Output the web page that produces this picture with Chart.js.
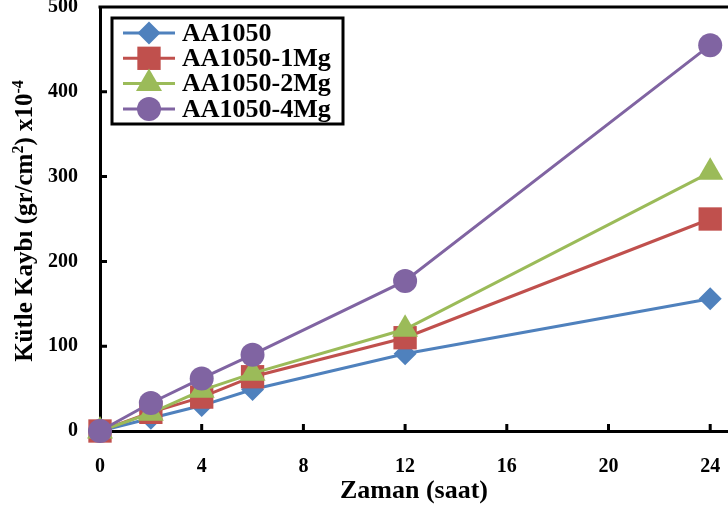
<!DOCTYPE html>
<html>
<head>
<meta charset="utf-8">
<script src="https://cdn.jsdelivr.net/npm/chart.js@4"></script>
<style>
  html, body { margin: 0; padding: 0; background: #fff; }
</style>
</head>
<body>
<canvas id="lossChart" width="728" height="511"></canvas>
<script>
// exposure time (hours) and mass loss (gr/cm2 x10^-4) per alloy
const hours = [0, 2, 4, 6, 12, 24];
const alloys = ['AA1050', 'AA1050-1Mg', 'AA1050-2Mg', 'AA1050-4Mg'];
const lossAA1050 = [0, 15, 30, 49, 91, 156];
const loss1Mg = [0, 22, 40, 64, 110, 250];
const loss2Mg = [0, 21, 48, 68, 120, 305];
const loss4Mg = [0, 33, 62, 90, 177, 455];
const xTicks = [0, 4, 8, 12, 16, 20, 24];
const yTicks = [0, 100, 200, 300, 400, 500];

const serif = "'Liberation Serif', 'Times New Roman', serif";

function series(label, values, color, style, radius, order) {
  return {
    label: label,
    data: hours.map((h, i) => ({ x: h, y: values[i] })),
    borderColor: color,
    backgroundColor: color,
    borderWidth: 3,
    pointStyle: style,
    pointRadius: radius,
    pointHoverRadius: radius,
    pointBorderWidth: 0,
    tension: 0,
    clip: false,
    order: order
  };
}

// tick marks point into the plot, plus the top frame line
const innerTicks = {
  id: 'innerTicks',
  beforeDatasetsDraw(chart) {
    const { ctx, chartArea, scales } = chart;
    ctx.save();
    ctx.strokeStyle = '#000';
    ctx.lineWidth = 3;
    ctx.beginPath();
    ctx.moveTo(chartArea.left - 1.5, chartArea.top);
    ctx.lineTo(chartArea.right, chartArea.top);
    xTicks.slice(1).forEach(v => {
      const px = scales.x.getPixelForValue(v);
      ctx.moveTo(px, chartArea.bottom);
      ctx.lineTo(px, chartArea.bottom - 7);
    });
    yTicks.slice(1, -1).forEach(v => {
      const py = scales.y.getPixelForValue(v);
      ctx.moveTo(chartArea.left, py);
      ctx.lineTo(chartArea.left + 7, py);
    });
    ctx.stroke();
    ctx.restore();
  }
};

// y axis title with superscripts
const yTitle = {
  id: 'yTitle',
  afterDraw(chart) {
    const { ctx, chartArea } = chart;
    const parts = [
      ['Kütle Kaybı (gr/cm', false],
      ['2', true],
      [') x10', false],
      ['-4', true]
    ];
    const big = 'bold 25px ' + serif;
    const small = 'bold 16px ' + serif;
    ctx.save();
    let total = 0;
    parts.forEach(p => {
      ctx.font = p[1] ? small : big;
      total += ctx.measureText(p[0]).width;
    });
    ctx.translate(32, (chartArea.top + chartArea.bottom) / 2 + 2);
    ctx.rotate(-Math.PI / 2);
    ctx.fillStyle = '#000';
    ctx.textBaseline = 'alphabetic';
    let x = -total / 2;
    parts.forEach(p => {
      ctx.font = p[1] ? small : big;
      ctx.fillText(p[0], x, p[1] ? -9 : 0);
      x += ctx.measureText(p[0]).width;
    });
    ctx.restore();
  }
};

// boxed legend in the upper left of the plot
const boxLegend = {
  id: 'boxLegend',
  afterDraw(chart) {
    const { ctx, chartArea } = chart;
    const left = chartArea.left + 12;
    const top = chartArea.top + 11;
    const w = 231, h = 106, rowH = 25.3;
    ctx.save();
    ctx.fillStyle = '#fff';
    ctx.fillRect(left, top, w, h);
    ctx.strokeStyle = '#000';
    ctx.lineWidth = 3;
    ctx.strokeRect(left, top, w, h);
    chart.data.datasets.forEach((ds, i) => {
      const cy = top + 15 + i * rowH;
      ctx.strokeStyle = ds.borderColor;
      ctx.lineWidth = 3;
      ctx.beginPath();
      ctx.moveTo(left + 11, cy);
      ctx.lineTo(left + 63, cy);
      ctx.stroke();
      ctx.fillStyle = ds.backgroundColor;
      Chart.helpers.drawPoint(ctx, {
        pointStyle: ds.pointStyle,
        radius: ds.pointRadius,
        borderWidth: 0,
        rotation: 0
      }, left + 37, cy);
      ctx.fillStyle = '#000';
      ctx.font = 'bold 26px ' + serif;
      ctx.textBaseline = 'middle';
      ctx.fillText(ds.label, left + 70, cy + 1);
    });
    ctx.restore();
  }
};

new Chart(document.getElementById('lossChart').getContext('2d'), {
  type: 'line',
  data: {
    datasets: [
      series(alloys[0], lossAA1050, '#4F81BD', 'rectRot', 11.5, 4),
      series(alloys[1], loss1Mg, '#C0504D', 'rect', 16.5, 3),
      series(alloys[2], loss2Mg, '#9BBB59', 'triangle', 15, 2),
      series(alloys[3], loss4Mg, '#8064A2', 'circle', 12, 1)
    ]
  },
  options: {
    responsive: false,
    animation: false,
    layout: { autoPadding: false, padding: { top: 7, right: 0, left: 0, bottom: 0 } },
    plugins: {
      legend: { display: false },
      tooltip: { enabled: false }
    },
    scales: {
      x: {
        type: 'linear',
        min: 0,
        max: 24.7,
        afterBuildTicks: s => { s.ticks = xTicks.map(v => ({ value: v })); },
        afterFit: s => {
          s.height = 80;
          s.paddingLeft = 0;
          s.paddingRight = 0;
        },
        grid: { display: false, drawTicks: false },
        border: { color: '#000', width: 3 },
        ticks: {
          color: '#000',
          padding: 24,
          maxRotation: 0,
          autoSkip: false,
          font: { family: serif, size: 20, weight: 'bold' }
        },
        title: {
          display: true,
          text: 'Zaman (saat)',
          color: '#000',
          padding: { top: 0, bottom: 4 },
          font: { family: serif, size: 26, weight: 'bold' }
        }
      },
      y: {
        min: 0,
        max: 500,
        afterBuildTicks: s => { s.ticks = yTicks.map(v => ({ value: v })); },
        afterFit: s => {
          s.width = 100;
          s.paddingTop = 0;
          s.paddingBottom = 0;
        },
        grid: { display: false, drawTicks: false },
        border: { color: '#000', width: 3 },
        ticks: {
          color: '#000',
          padding: 22,
          font: { family: serif, size: 20, weight: 'bold' }
        }
      }
    }
  },
  plugins: [innerTicks, yTitle, boxLegend]
});
</script>
</body>
</html>
